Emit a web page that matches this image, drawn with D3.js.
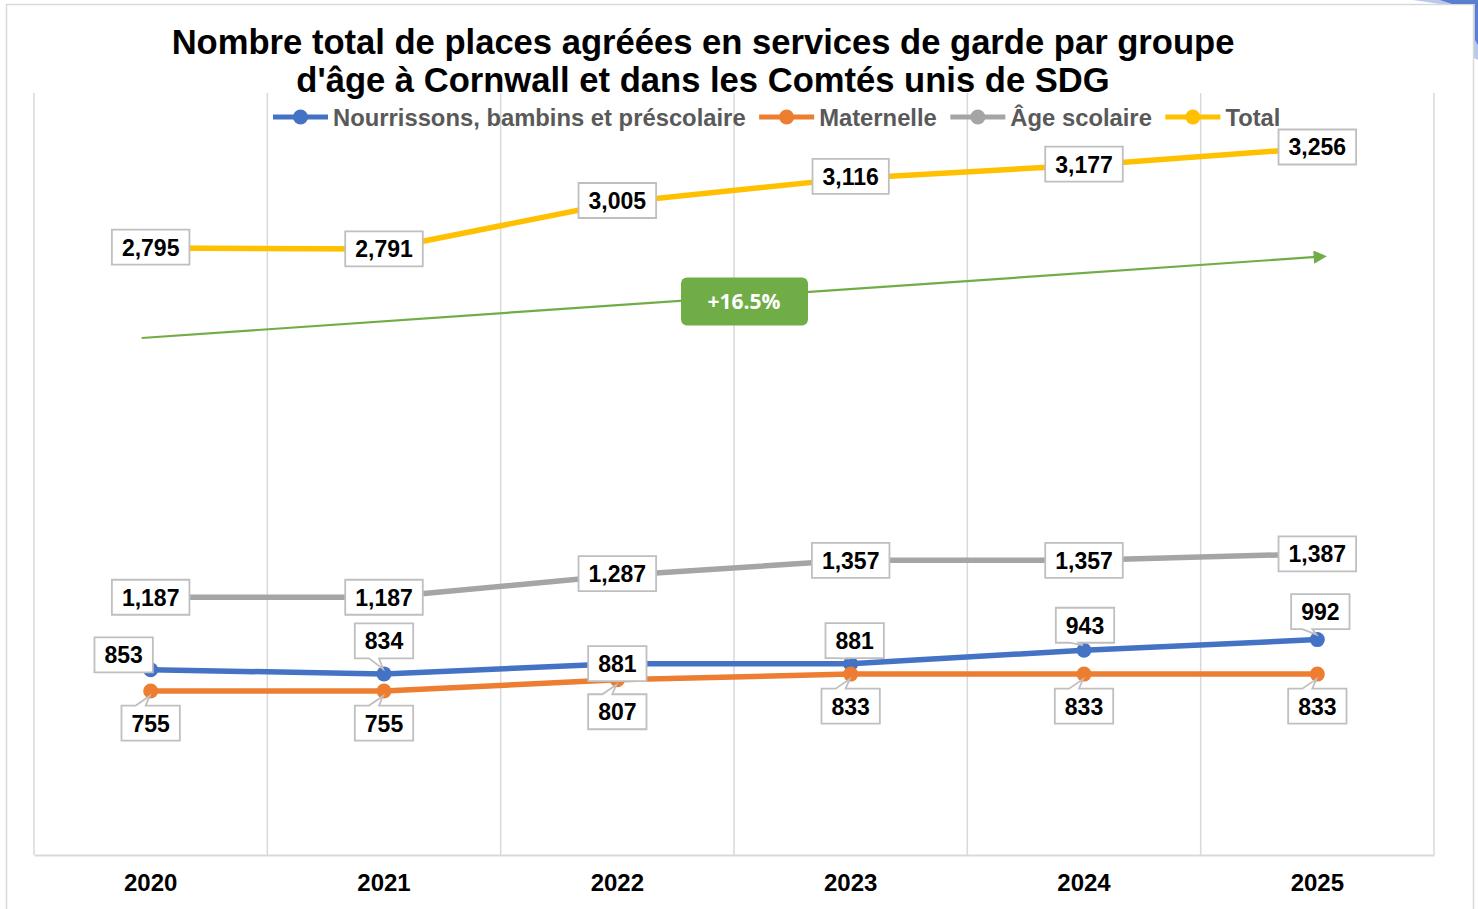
<!DOCTYPE html>
<html><head><meta charset="utf-8">
<script src="https://cdn.jsdelivr.net/npm/d3@7"></script>
<style>
html,body{margin:0;padding:0;background:#fff;}
svg{display:block;font-family:"Liberation Sans",Arial,sans-serif;}
</style></head>
<body>
<svg id="chart" width="1478" height="909"></svg>
<script>
// ---- data ----
const years = ["2020","2021","2022","2023","2024","2025"];
const seriesNames = ["Nourrissons, bambins et préscolaire","Maternelle","Âge scolaire","Total"];
const infants = [853, 834, 881, 881, 943, 992];
const kinder = [755, 755, 807, 833, 833, 833];
const schoolAge = [1187, 1187, 1287, 1357, 1357, 1387];
const total = [2795, 2791, 3005, 3116, 3177, 3256];
const trendLabel = "+16.5%";
const trendStartValue = 2381;
const trendEndValue = 2758;
const titleLines = ["Nombre total de places agréées en services de garde par groupe","d'âge à Cornwall et dans les Comtés unis de SDG"];

// ---- layout / style ----
const colors = ["#4472c4","#ed7d31","#a5a5a5","#ffc000"];
const showMarkers = [true,true,false,false];
const labelOffsets = [
  [[-27,-15],[0,-33],[0,0],[4,-23],[1,-25],[3,-28]],
  [[0,32],[0,32],[0,32],[0,32],[0,32],[0,32]],
  [[0,0],[0,0],[0,-2],[0,0],[0,0],[0,0]],
  [[0,-1],[0,0],[0,-2],[0,-2],[0,-1],[0,-1]]
];
const series = [infants, kinder, schoolAge, total];

const svg = d3.select("#chart");
const plot = {left:34, right:1434, top:95, bottom:855};

// outer chart frame
svg.append("rect").attr("x",6.5).attr("y",4.5).attr("width",1467).attr("height",930)
  .attr("fill","#fff").attr("stroke","#d9d9d9").attr("stroke-width",1.5);
// corner artifact
svg.append("path").attr("d","M1413,0 L1478,0 L1478,60 L1474,58 L1474,4 L1440,4 Z").attr("fill","#b8c9ea");
svg.append("path").attr("d","M1440,0 L1478,0 L1478,45 L1475,40 L1475,4 L1452,4 Z").attr("fill","#5b7fd0");

const x = d3.scaleBand().domain(years).range([plot.left, plot.right]).padding(0);
const y = d3.scaleLinear().domain([0,3500]).range([plot.bottom, plot.top]);
const cx = d => x(d) + x.bandwidth()/2;

// vertical gridlines
const bounds = years.map(d => x(d)).concat([plot.right]);
svg.append("g").selectAll("line").data(bounds).join("line")
  .attr("x1",d=>d).attr("x2",d=>d).attr("y1",93).attr("y2",plot.bottom)
  .attr("stroke","#d9d9d9").attr("stroke-width",1.5);

// x axis
const xAxis = d3.axisBottom(x).tickSize(0).tickPadding(19);
const gx = svg.append("g").attr("transform",`translate(0,${plot.bottom})`).call(xAxis);
gx.select(".domain").attr("stroke","#d9d9d9").attr("stroke-width",2);
gx.selectAll("text").attr("font-size",24).attr("font-weight","bold").attr("fill","#000")
  .attr("font-family","'Liberation Sans',Arial,sans-serif");

// title
svg.append("g").selectAll("text").data(titleLines).join("text")
  .attr("x",703).attr("y",(d,i)=>54+i*38).attr("text-anchor","middle")
  .attr("font-size",34.6).attr("font-weight","bold").attr("fill","#000").text(d=>d);

// trend arrow
const tx0 = cx(years[0]) - 9, tx1 = cx(years[5]) + 11;
const ty0 = y(trendStartValue), ty1 = y(trendEndValue);
const defs = svg.append("defs");
defs.append("marker").attr("id","arr").attr("viewBox","0 0 10 10").attr("refX",2).attr("refY",5)
  .attr("markerWidth",7).attr("markerHeight",6).attr("orient","auto").attr("markerUnits","strokeWidth")
  .append("path").attr("d","M0,0 L10,5 L0,10 Z").attr("fill","#70ad47");
const ang = Math.atan2(ty1-ty0, tx1-tx0);
svg.append("line").attr("x1",tx0).attr("y1",ty0)
  .attr("x2",tx1 - 12*Math.cos(ang)).attr("y2",ty1 - 12*Math.sin(ang))
  .attr("stroke","#70ad47").attr("stroke-width",2.2).attr("marker-end","url(#arr)");
const lx = (tx0+tx1)/2 + 9, ly = ty0 + (ty1-ty0)*((lx-tx0)/(tx1-tx0)) + 5;
svg.append("rect").attr("x",lx-63).attr("y",ly-24).attr("width",127).attr("height",48).attr("rx",6)
  .attr("fill","#70ad47");
svg.append("text").attr("x",lx).attr("y",ly+7.5).attr("text-anchor","middle")
  .attr("font-family","'Open Sans',sans-serif").attr("font-weight","bold").attr("font-size",21)
  .attr("fill","#fff").text(trendLabel);

// lines
const line = d3.line().x((d,i)=>cx(years[i])).y(d=>y(d));
series.forEach((s,k)=>{
  svg.append("path").datum(s).attr("d",line).attr("fill","none")
    .attr("stroke",colors[k]).attr("stroke-width",5.5).attr("stroke-linejoin","round");
  if(showMarkers[k]){
    svg.append("g").selectAll("circle").data(s).join("circle")
      .attr("cx",(d,i)=>cx(years[i])).attr("cy",d=>y(d)).attr("r",7.5).attr("fill",colors[k]);
  }
});

// data labels
const fmt = d3.format(",");
const lblG = svg.append("g");
series.forEach((s,k)=>{
  s.forEach((v,i)=>{
    const px = cx(years[i]), py = y(v);
    const [dx,dy] = labelOffsets[k][i];
    const bx = px+dx, by = py+dy;
    const g = lblG.append("g");
    const path = g.append("path");
    const t = g.append("text").attr("x",bx).attr("y",by+8.5).attr("text-anchor","middle")
      .attr("font-size",23).attr("font-weight","bold").attr("fill","#000").text(fmt(v));
    const w = t.node().getComputedTextLength() + 20;
    const h = 35;
    const x0 = bx - w/2, x1 = bx + w/2, y0 = by - h/2, y1 = by + h/2;
    let d;
    if (py > y1 + 3) {        // tail downward
      d = `M${x0},${y0} H${x1} V${y1} H${px-5} L${px-1},${py-5} L${px-15},${y1} H${x0} Z`;
    } else if (py < y0 - 3) { // tail upward
      d = `M${x0},${y0} H${px-15} L${px-1},${py+5} L${px-5},${y0} H${x1} V${y1} H${x0} Z`;
    } else {
      d = `M${x0},${y0} H${x1} V${y1} H${x0} Z`;
    }
    path.attr("d",d).attr("fill","#fff").attr("stroke","#bfbfbf").attr("stroke-width",1.8);
  });
});

// legend
const lg = svg.append("g");
let lxPos = 273;
seriesNames.forEach((n,k)=>{
  const g = lg.append("g");
  g.append("line").attr("x1",lxPos).attr("x2",lxPos+55).attr("y1",117).attr("y2",117)
    .attr("stroke",colors[k]).attr("stroke-width",5);
  g.append("circle").attr("cx",lxPos+27.5).attr("cy",117).attr("r",7.5).attr("fill",colors[k]);
  const t = g.append("text").attr("x",lxPos+60).attr("y",125.5).attr("font-size",23.8)
    .attr("font-weight","bold").attr("fill","#595959").text(n);
  lxPos += 60 + t.node().getComputedTextLength() + 13.5;
});
</script>
</body></html>
